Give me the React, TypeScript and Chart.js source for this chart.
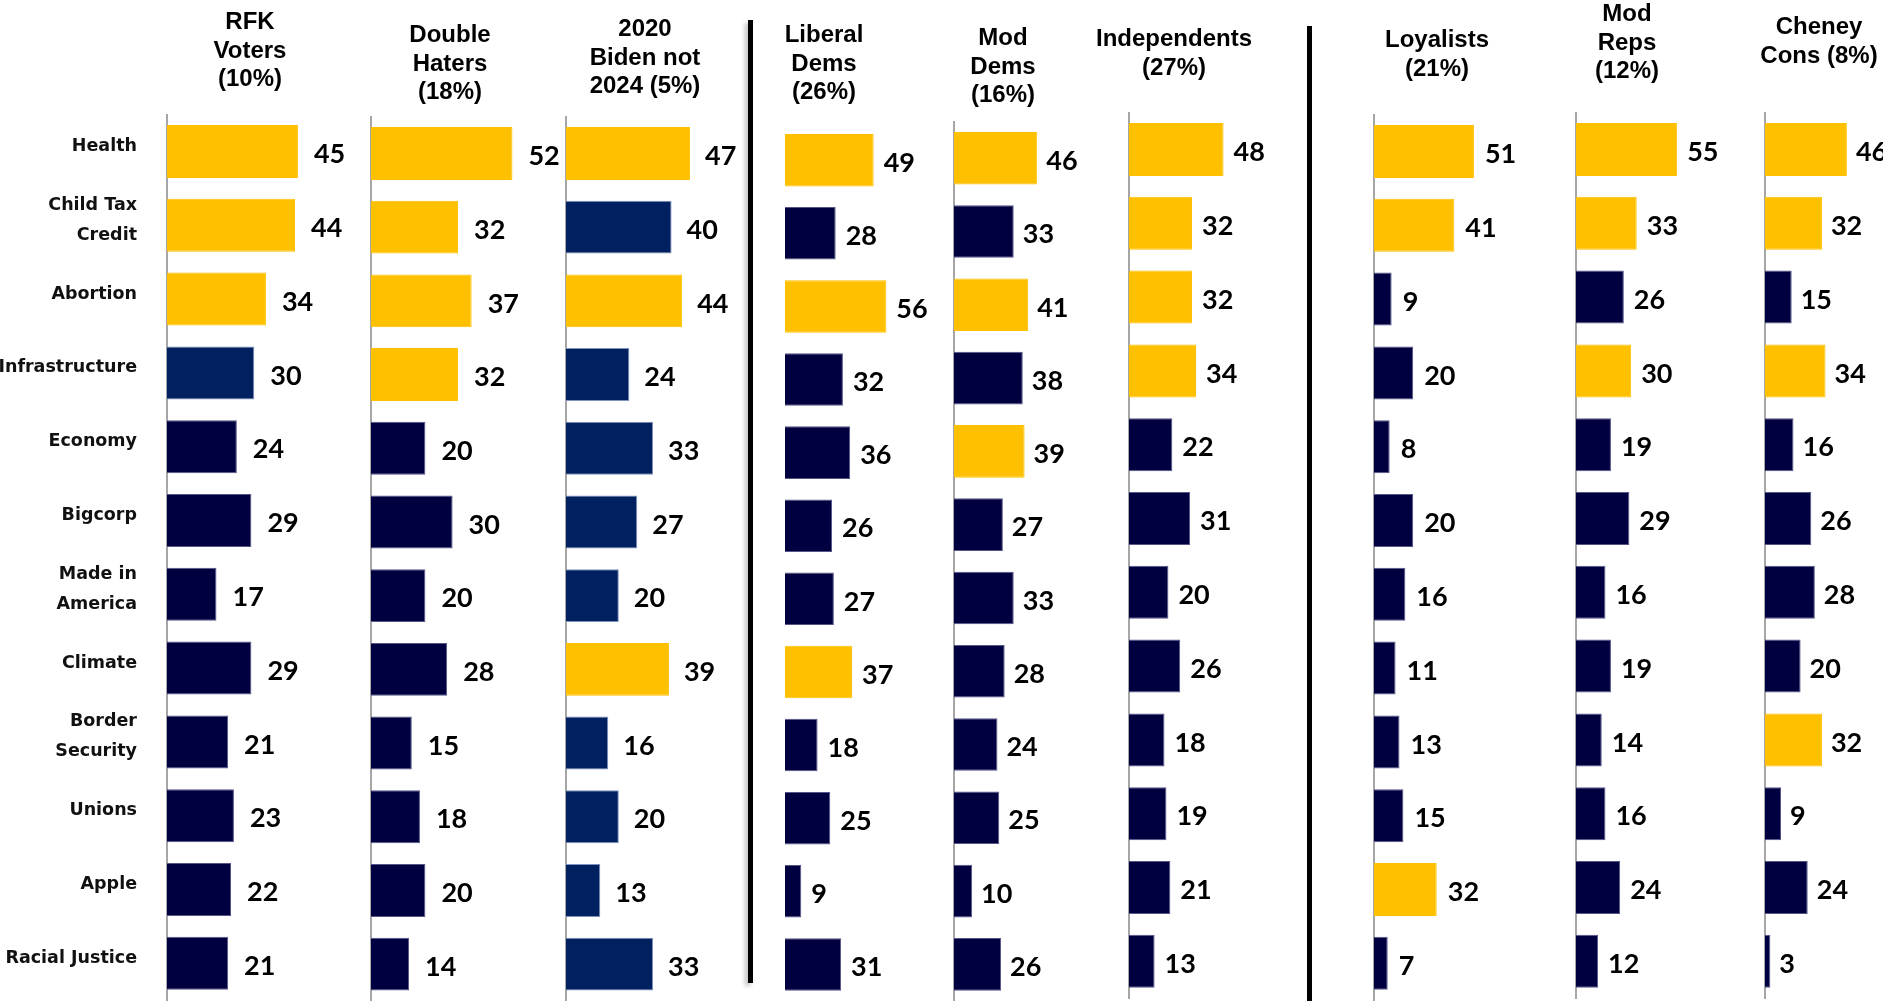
import React, { useEffect, useRef } from "react";
import { Chart, registerables } from "chart.js";
Chart.register(...registerables);

// ---------- DATA ----------
const categories: string[][] = [
  ["Health"],
  ["Child Tax", "Credit"],
  ["Abortion"],
  ["Infrastructure"],
  ["Economy"],
  ["Bigcorp"],
  ["Made in", "America"],
  ["Climate"],
  ["Border", "Security"],
  ["Unions"],
  ["Apple"],
  ["Racial Justice"],
];

const rfkTitle = ["RFK", "Voters", "(10%)"];
const rfkValues = [45, 44, 34, 30, 24, 29, 17, 29, 21, 23, 22, 21];
const rfkTop = [0, 1, 2];

const doubleTitle = ["Double", "Haters", "(18%)"];
const doubleValues = [52, 32, 37, 32, 20, 30, 20, 28, 15, 18, 20, 14];
const doubleTop = [0, 1, 2, 3];

const bidenTitle = ["2020", "Biden not", "2024 (5%)"];
const bidenValues = [47, 40, 44, 24, 33, 27, 20, 39, 16, 20, 13, 33];
const bidenTop = [0, 2, 7];

const libTitle = ["Liberal", "Dems", "(26%)"];
const libValues = [49, 28, 56, 32, 36, 26, 27, 37, 18, 25, 9, 31];
const libTop = [0, 2, 7];

const modDemTitle = ["Mod", "Dems", "(16%)"];
const modDemValues = [46, 33, 41, 38, 39, 27, 33, 28, 24, 25, 10, 26];
const modDemTop = [0, 2, 4];

const indTitle = ["Independents", "(27%)"];
const indValues = [48, 32, 32, 34, 22, 31, 20, 26, 18, 19, 21, 13];
const indTop = [0, 1, 2, 3];

const loyTitle = ["Loyalists", "(21%)"];
const loyValues = [51, 41, 9, 20, 8, 20, 16, 11, 13, 15, 32, 7];
const loyTop = [0, 1, 10];

const modRepTitle = ["Mod", "Reps", "(12%)"];
const modRepValues = [55, 33, 26, 30, 19, 29, 16, 19, 14, 16, 24, 12];
const modRepTop = [0, 1, 3];

const cheneyTitle = ["Cheney", "Cons (8%)"];
const cheneyValues = [46, 32, 15, 34, 16, 26, 28, 20, 32, 9, 24, 3];
const cheneyTop = [0, 1, 3, 8];

// ---------- STYLE / LAYOUT ----------
const YELLOW = "#FFC000";
const NAVY = "#000040";
const NAVY_BORDER = "#55558a";
const BLUE = "#002060";
const BLUE_BORDER = "#7f93c0";

type Panel = {
  title: string[];
  values: number[];
  top: number[];
  alt?: number[];
  axisX: number;
  pxPerUnit: number;
  firstBarTop: number;
  gap: number;
  titleX: number;
  titleBaseline: number;
  showAxis: boolean;
  showLabels: boolean;
  navy: string;
  navyBorder: string;
};

const panels: Panel[] = [
  { title: rfkTitle, values: rfkValues, top: rfkTop, alt: [3], axisX: 167, pxPerUnit: 2.91, firstBarTop: 125, gap: 16, titleX: 250, titleBaseline: 30, showAxis: true, showLabels: true, navy: NAVY, navyBorder: NAVY_BORDER },
  { title: doubleTitle, values: doubleValues, top: doubleTop, axisX: 371, pxPerUnit: 2.72, firstBarTop: 127, gap: 16, titleX: 450, titleBaseline: 43, showAxis: true, showLabels: false, navy: NAVY, navyBorder: NAVY_BORDER },
  { title: bidenTitle, values: bidenValues, top: bidenTop, axisX: 566, pxPerUnit: 2.64, firstBarTop: 127, gap: 15, titleX: 645, titleBaseline: 37, showAxis: true, showLabels: false, navy: BLUE, navyBorder: BLUE_BORDER },
  { title: libTitle, values: libValues, top: libTop, axisX: 785, pxPerUnit: 1.81, firstBarTop: 134, gap: 10, titleX: 824, titleBaseline: 43, showAxis: false, showLabels: false, navy: NAVY, navyBorder: NAVY_BORDER },
  { title: modDemTitle, values: modDemValues, top: modDemTop, axisX: 954, pxPerUnit: 1.81, firstBarTop: 132, gap: 9, titleX: 1003, titleBaseline: 46, showAxis: true, showLabels: false, navy: NAVY, navyBorder: NAVY_BORDER },
  { title: indTitle, values: indValues, top: indTop, axisX: 1129, pxPerUnit: 1.97, firstBarTop: 123, gap: 10, titleX: 1174, titleBaseline: 47, showAxis: true, showLabels: false, navy: NAVY, navyBorder: NAVY_BORDER },
  { title: loyTitle, values: loyValues, top: loyTop, axisX: 1374, pxPerUnit: 1.96, firstBarTop: 125, gap: 11, titleX: 1437, titleBaseline: 48, showAxis: true, showLabels: false, navy: NAVY, navyBorder: NAVY_BORDER },
  { title: modRepTitle, values: modRepValues, top: modRepTop, axisX: 1576, pxPerUnit: 1.84, firstBarTop: 123, gap: 10, titleX: 1627, titleBaseline: 22, showAxis: true, showLabels: false, navy: NAVY, navyBorder: NAVY_BORDER },
  { title: cheneyTitle, values: cheneyValues, top: cheneyTop, axisX: 1765, pxPerUnit: 1.78, firstBarTop: 123, gap: 9, titleX: 1819, titleBaseline: 35, showAxis: true, showLabels: false, navy: NAVY, navyBorder: NAVY_BORDER },
];

const PITCH = 73.8;
const BAR_H = 53;
const PLOT_W = 230;
const PAGE_H = 1001;

const valueLabels = {
  id: "valueLabels",
  afterDatasetsDraw(chart: any, _args: any, opts: any) {
    const ctx = chart.ctx;
    const meta = chart.getDatasetMeta(0);
    const data = chart.data.datasets[0].data as number[];
    ctx.save();
    ctx.font = 'bold 27px Lato';
    ctx.fillStyle = "#000";
    ctx.textBaseline = "middle";
    ctx.textAlign = "left";
    meta.data.forEach((bar: any, i: number) => {
      ctx.fillText(String(data[i]), bar.x + (opts.gap || 10), bar.y + 3);
    });
    ctx.restore();
  },
};

function PanelChart({ p }: { p: Panel }) {
  const ref = useRef<HTMLCanvasElement>(null);
  useEffect(() => {
    const H = PITCH * categories.length;
    const areaTop = p.firstBarTop - (PITCH - BAR_H) / 2;
    const colors = p.values.map((_, i) =>
      p.top.includes(i) ? YELLOW : p.alt && p.alt.includes(i) ? BLUE : p.navy
    );
    const borders = p.values.map((_, i) =>
      p.top.includes(i) ? YELLOW : p.alt && p.alt.includes(i) ? BLUE_BORDER : p.navyBorder
    );
    const chart = new Chart(ref.current as HTMLCanvasElement, {
      type: "bar",
      data: {
        labels: categories as any,
        datasets: [
          {
            data: p.values,
            backgroundColor: colors,
            borderColor: borders,
            borderWidth: 1,
            barPercentage: BAR_H / PITCH,
            categoryPercentage: 1,
          },
        ],
      },
      options: {
        indexAxis: "y",
        animation: false,
        responsive: false,
        maintainAspectRatio: false,
        layout: { padding: { top: areaTop, bottom: PAGE_H - areaTop - H, left: 0, right: 0 } },
        plugins: {
          legend: { display: false },
          tooltip: { enabled: false },
          title: { display: false },
          valueLabels: { gap: p.gap },
        } as any,
        scales: {
          x: { display: false, min: 0, max: PLOT_W / p.pxPerUnit },
          y: {
            display: true,
            afterFit: (s: any) => {
              s.width = p.axisX;
              s.paddingTop = 0;
              s.paddingBottom = 0;
              s.paddingLeft = 0;
              s.paddingRight = 0;
            },
            grid: { display: false, drawTicks: false },
            border: { display: p.showAxis, color: "#a6a6a6", width: 2 },
            ticks: {
              display: p.showLabels,
              padding: 30,
              labelOffset: -5,
              color: "#111",
              font: { family: '"DejaVu Sans"', weight: "bold", size: 17.5, lineHeight: 1.71 },
            },
          },
        },
      } as any,
      plugins: [valueLabels as any],
    });
    return () => chart.destroy();
  }, []);
  return (
    <canvas
      ref={ref}
      width={p.axisX + PLOT_W}
      height={PAGE_H}
      style={{ position: "absolute", left: 0, top: 0, width: p.axisX + PLOT_W, height: PAGE_H }}
    />
  );
}

export default function App() {
  return (
    <div
      style={{
        position: "absolute",
        left: 0,
        top: 0,
        width: 1883,
        height: 1001,
        overflow: "hidden",
        background: "#fff",
      }}
    >
      {panels.map((p, i) => (
        <PanelChart key={i} p={p} />
      ))}
      {panels.map((p, i) => (
        <div
          key={"t" + i}
          style={{
            position: "absolute",
            left: p.titleX - 110,
            width: 220,
            top: p.titleBaseline - 22.6,
            textAlign: "center",
            font: 'bold 24px "Liberation Sans", Arial, sans-serif',
            lineHeight: "28.5px",
            color: "#000",
            whiteSpace: "nowrap",
          }}
        >
          {p.title.map((l, j) => (
            <div key={j}>{l}</div>
          ))}
        </div>
      ))}
      <div style={{ position: "absolute", left: 748, top: 20, width: 5, height: 963, background: "#000", boxShadow: "-3px 3px 4px rgba(0,0,0,0.25)" }} />
      <div style={{ position: "absolute", left: 1307, top: 26, width: 5, height: 975, background: "#000" }} />
    </div>
  );
}
